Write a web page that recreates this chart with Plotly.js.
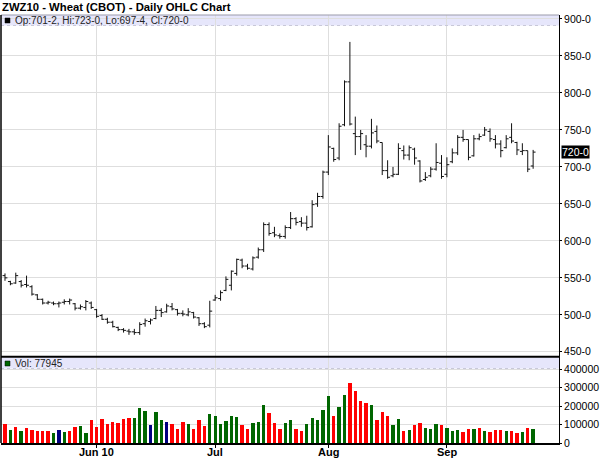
<!DOCTYPE html>
<html>
<head>
<meta charset="utf-8">
<script src="https://cdn.plot.ly/plotly-3.0.1.min.js"></script>
<style>
  body { margin: 0; background: #fff; }
  #chart { width: 600px; height: 459px; }
</style>
</head>
<body>
<div id="chart"></div>
<script>
// ZWZ10 daily bars, 6 May - 24 Sep 2010 (prices in cents)
const dates = [
  '2010-05-06','2010-05-07','2010-05-10','2010-05-11','2010-05-12','2010-05-13','2010-05-14',
  '2010-05-17','2010-05-18','2010-05-19','2010-05-20','2010-05-21','2010-05-24','2010-05-25',
  '2010-05-26','2010-05-27','2010-05-28',
  '2010-06-01','2010-06-02','2010-06-03','2010-06-04','2010-06-07','2010-06-08','2010-06-09',
  '2010-06-10','2010-06-11','2010-06-14','2010-06-15','2010-06-16','2010-06-17','2010-06-18',
  '2010-06-21','2010-06-22','2010-06-23','2010-06-24','2010-06-25','2010-06-28','2010-06-29',
  '2010-06-30',
  '2010-07-01','2010-07-02','2010-07-06','2010-07-07','2010-07-08','2010-07-09','2010-07-12',
  '2010-07-13','2010-07-14','2010-07-15','2010-07-16','2010-07-19','2010-07-20','2010-07-21',
  '2010-07-22','2010-07-23','2010-07-26','2010-07-27','2010-07-28','2010-07-29','2010-07-30',
  '2010-08-02','2010-08-03','2010-08-04','2010-08-05','2010-08-06','2010-08-09','2010-08-10',
  '2010-08-11','2010-08-12','2010-08-13','2010-08-16','2010-08-17','2010-08-18','2010-08-19',
  '2010-08-20','2010-08-23','2010-08-24','2010-08-25','2010-08-26','2010-08-27','2010-08-30',
  '2010-08-31',
  '2010-09-01','2010-09-02','2010-09-03','2010-09-07','2010-09-08','2010-09-09','2010-09-10',
  '2010-09-13','2010-09-14','2010-09-15','2010-09-16','2010-09-17','2010-09-20','2010-09-21',
  '2010-09-22','2010-09-23','2010-09-24'
]

const opens = [
  553,545,543,545,541,538,527,521,516,516, 515,517,518,515,509,510,516,507,499,494,
  490,483,480,478,477,476,488,491,495,506, 504,511,507,502,500,503,496,488,486,520,
  522,533,540,556,574,566,562,578,588,622, 611,607,606,618,630,626,624,619,650,660,
  693,725,712,757,815,745,741,730,728,748, 733,695,688,690,722,716,724,708,683,688,
  697,705,690,707,719,740,737,715,738,743, 748,737,731,726,740,733,721,722,701.25
]
const highs = [
  556,546,557,547,553,540,528,522,519,518, 518,521,522,516,514,520,518,508,501,496,
  492,484,482,481,481,490,495,495,512,509, 515,516,508,506,509,504,497,490,519,527,
  533,552,560,576,576,569,579,591,625,625, 619,610,621,639,632,632,634,655,665,695,
  743,726,759,817,869,768,750,743,765,756, 733,709,700,732,729,729,726,709,693,700,
  732,716,713,725,743,750,737,743,745,754, 752,743,736,743,759,734,732,722,723
]
const lows = [
  546,540,542,537,537,526,520,514,514,513, 510,514,514,506,507,506,508,496,493,488,
  483,478,476,473,473,473,484,487,494,497, 503,506,499,498,498,495,485,482,483,519,
  519,532,533,553,563,561,560,576,585,607, 605,603,603,616,621,619,614,618,646,657,
  689,707,709,755,756,716,723,713,725,732, 689,684,686,689,710,709,703,679,681,686,
  695,684,686,705,716,734,709,714,736,742, 734,725,713,725,732,716,716,693,697.5
]
const closes = [
  550,542,553,540,540,528,521,516,517,515, 516,518,520,509,511,518,510,498,494,490,
  484,480,479,477,476,487,492,493,506,503, 512,508,502,501,504,497,488,484,505,523,
  530,548,559,575,566,563,577,588,622,610, 608,606,618,630,625,624,618,649,660,693,
  727,710,755,815,758,741,745,728,746,735, 695,686,690,725,716,726,712,681,686,697,
  706,687,703,719,740,737,713,738,741,750, 738,731,722,738,735,723,722,697,720
]

const volumes = [
  104000,69000,89000,65000,84000,73000,65000,65000,65000,55000,
  73000,60000,65000,87000,93000,55000,125000,89000,131000,104000,
  116000,107000,131000,138000,135000,191000,176000,96000,167000,125000,
  116000,105000,78000,113000,105000,75000,125000,93000,155000,144000,
  104000,118000,145000,140000,98000,75000,107000,116000,205000,164000,
  107000,78000,107000,125000,76000,64000,105000,135000,125000,182000,
  256000,149000,196000,260000,327000,280000,227000,215000,204000,125000,
  171000,149000,96000,130000,66000,71000,97000,110000,79000,76000,
  105000,100000,84000,67000,71000,59000,76000,76000,79000,67000,
  62000,71000,71000,64000,64000,53000,62000,79000,77945
]
// u = up day, d = down day, n = unchanged
const volumeDirs = [
  'd','u','d','u','d','d','d','d','d','u', 'n','u','d','d','u','u','d','d','d','d',
  'd','d','d','d','u','u','u','n','u','u', 'n','d','d','d','u','d','d','d','u','u',
  'u','u','u','u','d','d','u','u','u','d', 'd','d','u','u','d','d','u','u','u','u',
  'u','d','u','u','d','d','d','d','u','d', 'd','d','u','u','d','u','d','d','u','u',
  'u','d','u','u','u','d','d','u','d','u', 'd','d','d','u','d','d','u','d','u'
]

const monthTicks = ['2010-06-01', '2010-07-01', '2010-08-02', '2010-09-01']
const monthLabels = ['Jun 10', 'Jul', 'Aug', 'Sep']
const priceTicks = [450, 500, 550, 600, 650, 700, 750, 800, 850, 900]
const volTicks = [0, 100000, 200000, 300000, 400000]

const lastBar = { op: '701-2', hi: '723-0', lo: '697-4', cl: '720-0', price: 720 }

const Plotly = window.Plotly

const dirColors = { u: '#006600', d: '#ff0000', n: '#000080' }
const font = 'Arial, "Liberation Sans", sans-serif'
const grid = '#dedede'

// paper y for a pixel row (plot area spans rows 15..443)
const py = px => (443 - px) / 428

let priceTrace = {
  type: 'ohlc',
  x: dates,
  open: opens,
  high: highs,
  low: lows,
  close: closes,
  xaxis: 'x',
  yaxis: 'y',
  increasing: { line: { color: '#111', width: 1 } },
  decreasing: { line: { color: '#111', width: 1 } },
  tickwidth: 0.45,
  hoverinfo: 'skip',
  showlegend: false,
}

let volTrace = {
  type: 'bar',
  x: dates,
  y: volumes,
  xaxis: 'x2',
  yaxis: 'y2',
  marker: { color: volumeDirs.map(d => dirColors[d]), line: { width: 0 } },
  width: 0.62,
  hoverinfo: 'skip',
  showlegend: false,
}

const xRange = [-0.74, 102.8]

// month labels under the volume panel
let monthAnnotations = monthTicks.map((d, i) => ({
  xref: 'x2', yref: 'paper', x: d, y: py(452),
  xanchor: 'center', yanchor: 'middle', showarrow: false,
  text: `<b>${monthLabels[i]}</b>`,
  font: { family: font, size: 11, color: '#000' },
}))

const axisFont = { family: font, size: 10.5, color: '#000' }

let layout = {
  width: 600,
  height: 459,
  margin: { l: 1, r: 41, t: 15, b: 16 },
  paper_bgcolor: '#fff',
  plot_bgcolor: '#fff',
  font: { family: font, size: 11, color: '#000' },
  showlegend: false,
  bargap: 0,
  xaxis: {
    type: 'category',
    range: xRange,
    anchor: 'y',
    tickvals: monthTicks,
    ticktext: monthLabels,
    showticklabels: false,
    showgrid: true,
    gridcolor: grid,
    gridwidth: 1,
    ticks: '',
    showline: false,
    zeroline: false,
    rangeslider: { visible: false },
    fixedrange: true,
  },
  xaxis2: {
    type: 'category',
    range: xRange,
    anchor: 'y2',
    tickvals: monthTicks,
    ticktext: monthLabels,
    showticklabels: false,
    showgrid: true,
    gridcolor: grid,
    ticks: 'outside',
    ticklen: 3,
    tickcolor: '#000',
    showline: true,
    linecolor: '#000',
    linewidth: 2,
    zeroline: false,
    fixedrange: true,
  },
  yaxis: {
    domain: [0.202, 1],
    range: [443.6, 905.4],
    side: 'right',
    anchor: 'x',
    tickvals: priceTicks,
    ticktext: priceTicks.map(v => `${v}-0`),
    tickfont: axisFont,
    showgrid: true,
    gridcolor: grid,
    ticks: 'outside',
    ticklen: 2,
    tickcolor: '#000',
    showline: true,
    linecolor: '#000',
    linewidth: 1,
    zeroline: false,
    fixedrange: true,
  },
  yaxis2: {
    domain: [0, 0.2],
    range: [0, 465000],
    side: 'right',
    anchor: 'x2',
    tickvals: volTicks,
    ticktext: volTicks.map(v => `${v}`),
    tickfont: axisFont,
    showgrid: true,
    gridcolor: grid,
    ticks: 'outside',
    ticklen: 2,
    tickcolor: '#000',
    showline: true,
    linecolor: '#000',
    linewidth: 1,
    zeroline: false,
    fixedrange: true,
  },
  shapes: [
    // header bands
    { type: 'rect', xref: 'paper', yref: 'paper', x0: 0, x1: 1, y0: py(25.5), y1: py(15),
      fillcolor: '#e6e6fb', line: { width: 0 }, layer: 'below' },
    { type: 'line', xref: 'paper', yref: 'paper', x0: 0, x1: 1, y0: py(25.5), y1: py(25.5),
      line: { color: '#c8c8d8', width: 1, dash: 'dot' } },
    { type: 'rect', xref: 'paper', yref: 'paper', x0: 0, x1: 1, y0: py(368.5), y1: py(357.5),
      fillcolor: '#e6e6fb', line: { width: 0 }, layer: 'below' },
    { type: 'line', xref: 'paper', yref: 'paper', x0: 0, x1: 1, y0: py(368.5), y1: py(368.5),
      line: { color: '#c8c8d8', width: 1, dash: 'dot' } },
    // frame
    { type: 'line', xref: 'paper', yref: 'paper', x0: 0, x1: 1, y0: 1, y1: 1,
      line: { color: '#9a9aaa', width: 1 } },
    { type: 'line', xref: 'paper', yref: 'paper', x0: 0, x1: 0, y0: 0, y1: 1,
      line: { color: '#000', width: 1.5 } },
    { type: 'line', xref: 'paper', yref: 'paper', x0: 0, x1: 1, y0: py(356.7), y1: py(356.7),
      line: { color: '#000', width: 2 } },
    // legend squares
    { type: 'rect', xref: 'paper', yref: 'paper', x0: 4 / 558, x1: 9 / 558, y0: py(23), y1: py(18),
      fillcolor: '#000', line: { color: '#000', width: 0.5 } },
    { type: 'rect', xref: 'paper', yref: 'paper', x0: 4 / 558, x1: 9 / 558, y0: py(366), y1: py(361),
      fillcolor: '#006600', line: { color: '#000', width: 0.5 } },
  ],
  annotations: [
    {
      xref: 'paper', yref: 'paper', x: -1 / 558, y: py(7),
      xanchor: 'left', yanchor: 'middle', showarrow: false,
      text: '<b>ZWZ10 - Wheat (CBOT) - Daily OHLC Chart</b>',
      font: { family: font, size: 11.3, color: '#000' },
    },
    {
      xref: 'paper', yref: 'paper', x: 12 / 558, y: py(20.5),
      xanchor: 'left', yanchor: 'middle', showarrow: false,
      text: `Op:${lastBar.op}, Hi:${lastBar.hi}, Lo:${lastBar.lo}, Cl:${lastBar.cl}`,
      font: { family: font, size: 10, color: '#222' },
    },
    {
      xref: 'paper', yref: 'paper', x: 12 / 558, y: py(363.5),
      xanchor: 'left', yanchor: 'middle', showarrow: false,
      text: `Vol: ${volumes[volumes.length - 1]}`,
      font: { family: font, size: 10, color: '#222' },
    },
    {
      xref: 'paper', yref: 'y', x: 1, y: lastBar.price,
      xanchor: 'left', yanchor: 'middle', xshift: 2, showarrow: false,
      text: lastBar.cl,
      bgcolor: '#000', borderpad: 0,
      font: { family: font, size: 10.5, color: '#fff' },
    },
    ...monthAnnotations,
  ],
}

let config = { staticPlot: true, responsive: false }

Plotly.newPlot('chart', [volTrace, priceTrace], layout, config)
</script>
</body>
</html>
